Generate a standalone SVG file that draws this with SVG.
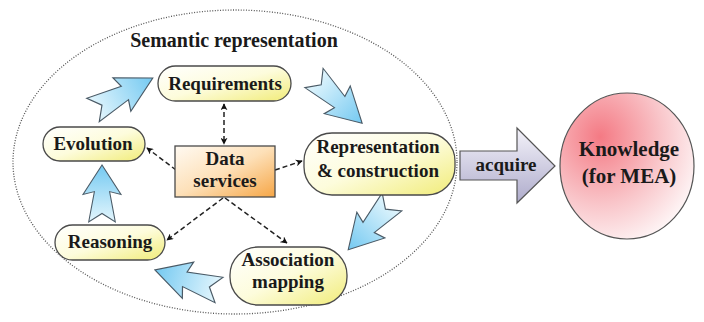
<svg xmlns="http://www.w3.org/2000/svg" width="704" height="322" viewBox="0 0 704 322" font-family="'Liberation Serif', 'DejaVu Serif', serif">
  <style>
    text { font-family: "Liberation Serif", "DejaVu Serif", serif; }
    .lbl { font-weight: bold; fill: #1a1a1a; text-anchor: middle; }
    .pill { fill: url(#pillFill); stroke: #4a4a4a; stroke-width: 1.3; }
    .flow { fill: url(#flowFill); stroke: #4a5a66; stroke-width: 1.1; stroke-linejoin: miter; }
    .dash { fill: none; stroke: #222; stroke-width: 1.5; stroke-dasharray: 5 3; }
  </style>
  <defs>
    <linearGradient id="pillFill" x1="0" y1="0" x2="1" y2="1">
      <stop offset="0" stop-color="#ffffff"/>
      <stop offset="0.5" stop-color="#fdfcdc"/>
      <stop offset="1" stop-color="#f1ec78"/>
    </linearGradient>
    <linearGradient id="boxFill" x1="0" y1="0" x2="1" y2="1">
      <stop offset="0" stop-color="#fffaf2"/>
      <stop offset="0.5" stop-color="#fde0b8"/>
      <stop offset="1" stop-color="#f6a646"/>
    </linearGradient>
    <linearGradient id="flowFill" x1="0" y1="0" x2="1" y2="0">
      <stop offset="0" stop-color="#e4f6fd"/>
      <stop offset="1" stop-color="#74c9f1"/>
    </linearGradient>
    <linearGradient id="acqFill" x1="0" y1="0" x2="0" y2="1">
      <stop offset="0" stop-color="#f4f3fa"/>
      <stop offset="1" stop-color="#aeabcb"/>
    </linearGradient>
    <radialGradient id="knowFill" cx="0.3" cy="0.3" r="0.85">
      <stop offset="0" stop-color="#f47a84"/>
      <stop offset="0.55" stop-color="#f9c6ca"/>
      <stop offset="1" stop-color="#ffffff"/>
    </radialGradient>
    <path id="bolt" d="M60,0 L29,-20 L32,-8 L0,-14 L9,0 L0,14 L32,8 L29,20 Z"/>
    <marker id="tip" viewBox="0 0 10 10" refX="9" refY="5" markerWidth="7" markerHeight="7" markerUnits="userSpaceOnUse" orient="auto-start-reverse">
      <path d="M0,0 L10,5 L0,10 L3,5 Z" fill="#111"/>
    </marker>
  </defs>

  <rect width="704" height="322" fill="#ffffff"/>

  <!-- dotted boundary of the semantic layer -->
  <g id="semantic-boundary">
    <ellipse cx="235" cy="162" rx="222" ry="152" fill="none" stroke="#555" stroke-width="1.3" stroke-dasharray="1 1.6"/>
    <text class="lbl" x="234" y="47" font-size="20">Semantic representation</text>
  </g>

  <!-- cycle arrows and dashed service links -->
  <g id="connectors">
    <use href="#bolt" class="flow" transform="translate(93,110) rotate(-28.1) scale(1.13,0.95)"/>
    <use href="#bolt" class="flow" transform="translate(314,78) rotate(43.2) scale(1.1,0.95)"/>
    <use href="#bolt" class="flow" transform="translate(392,202) rotate(132.5) scale(1.08,0.95)"/>
    <use href="#bolt" class="flow" transform="translate(219,290) rotate(197.4) scale(1.12,0.95)"/>
    <use href="#bolt" class="flow" transform="translate(102,222) rotate(-90) scale(0.95,0.95)"/>

    <line class="dash" x1="224" y1="104" x2="224" y2="144" marker-start="url(#tip)" marker-end="url(#tip)"/>
    <line class="dash" x1="176" y1="170" x2="147" y2="148" marker-end="url(#tip)"/>
    <line class="dash" x1="275" y1="170" x2="302" y2="161" marker-end="url(#tip)"/>
    <line class="dash" x1="223" y1="198" x2="167" y2="240" marker-end="url(#tip)"/>
    <line class="dash" x1="225" y1="198" x2="287" y2="243" marker-end="url(#tip)"/>
  </g>

  <g id="requirements">
    <rect class="pill" x="158" y="66" width="133" height="35" rx="17.5"/>
    <text class="lbl" x="225" y="90" font-size="19">Requirements</text>
  </g>

  <g id="evolution">
    <rect class="pill" x="43" y="127" width="102" height="34" rx="17"/>
    <text class="lbl" x="93" y="150" font-size="19">Evolution</text>
  </g>

  <g id="data-services">
    <rect x="175" y="146" width="100" height="51" fill="url(#boxFill)" stroke="#4a4a4a" stroke-width="1.3"/>
    <text class="lbl" x="225" y="165" font-size="19">Data</text>
    <text class="lbl" x="225" y="187" font-size="19">services</text>
  </g>

  <g id="representation">
    <rect class="pill" x="304" y="133" width="151" height="62" rx="28"/>
    <text class="lbl" x="378" y="153" font-size="19">Representation</text>
    <text class="lbl" x="378" y="177" font-size="19">&amp; construction</text>
  </g>

  <g id="reasoning">
    <rect class="pill" x="55" y="225" width="110" height="35" rx="17.5"/>
    <text class="lbl" x="110" y="248" font-size="19">Reasoning</text>
  </g>

  <g id="association">
    <rect class="pill" x="230" y="247" width="117" height="58" rx="28"/>
    <text class="lbl" x="288" y="266" font-size="19">Association</text>
    <text class="lbl" x="288" y="288" font-size="19">mapping</text>
  </g>

  <g id="acquire">
    <path d="M460,151 L517,151 L517,128 L555,166 L517,203 L517,180 L460,180 Z" fill="url(#acqFill)" stroke="#555" stroke-width="1.2"/>
    <text class="lbl" x="506" y="171" font-size="19">acquire</text>
  </g>

  <g id="knowledge">
    <ellipse cx="627" cy="166" rx="67" ry="73" fill="url(#knowFill)" stroke="#555" stroke-width="1.2"/>
    <text class="lbl" x="629" y="156" font-size="21">Knowledge</text>
    <text class="lbl" x="629" y="183" font-size="21">(for MEA)</text>
  </g>
</svg>
